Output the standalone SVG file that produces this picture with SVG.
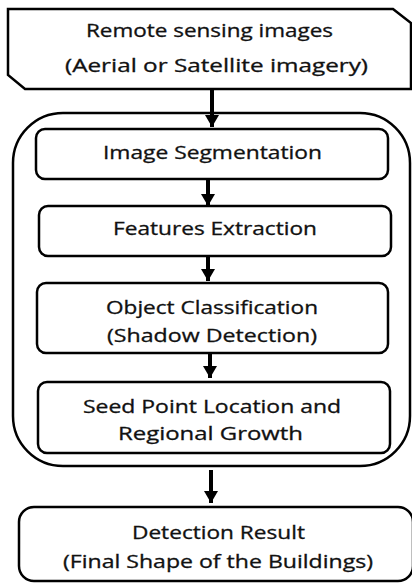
<svg xmlns="http://www.w3.org/2000/svg" width="412" height="583" viewBox="0 0 412 583">
<defs>
<style>
.box{fill:#fff;stroke:#000;stroke-width:2.5}
.cont{fill:none;stroke:#000;stroke-width:2.5}
.lbl{font-family:"Open Sans","Liberation Sans",sans-serif;font-size:18px;fill:#111;stroke:#111;stroke-width:0.3}
.conn{stroke:#000;stroke-width:4;fill:none}
</style>
<marker id="ah" markerUnits="userSpaceOnUse" markerWidth="12" markerHeight="14" refX="12" refY="7" orient="auto">
<path d="M0,0 L12,7 L0,14 Z" fill="#000"/>
</marker>
</defs>
<rect width="412" height="583" fill="#fff"/>
<g id="container">
<rect class="cont" x="13" y="113" width="397" height="353" rx="50" ry="50"/>
</g>
<g id="n-input">
<path class="box" d="M8,9 L393,9 L411,23 L411,89 L25,89 L8,75 Z"/>
<text class="lbl" x="86" y="37" textLength="247" lengthAdjust="spacingAndGlyphs">Remote sensing images</text>
<text class="lbl" x="65" y="72" textLength="303" lengthAdjust="spacingAndGlyphs">(Aerial or Satellite imagery)</text>
</g>
<g id="n-seg">
<rect class="box" x="36" y="129" width="352" height="50" rx="9"/>
<text class="lbl" x="103" y="159" textLength="219" lengthAdjust="spacingAndGlyphs">Image Segmentation</text>
</g>
<g id="n-feat">
<rect class="box" x="39" y="206" width="352" height="50" rx="9"/>
<text class="lbl" x="113" y="235" textLength="204" lengthAdjust="spacingAndGlyphs">Features Extraction</text>
</g>
<g id="n-class">
<rect class="box" x="37" y="283" width="351" height="70" rx="9"/>
<text class="lbl" x="106" y="314" textLength="212" lengthAdjust="spacingAndGlyphs">Object Classification</text>
<text class="lbl" x="107" y="342" textLength="210" lengthAdjust="spacingAndGlyphs">(Shadow Detection)</text>
</g>
<g id="n-seed">
<rect class="box" x="38" y="382" width="352" height="71" rx="9"/>
<text class="lbl" x="83" y="413" textLength="258" lengthAdjust="spacingAndGlyphs">Seed Point Location and</text>
<text class="lbl" x="118" y="440" textLength="185" lengthAdjust="spacingAndGlyphs">Regional Growth</text>
</g>
<g id="n-result">
<rect class="box" x="19" y="507" width="394" height="74" rx="15"/>
<text class="lbl" x="132" y="539" textLength="173" lengthAdjust="spacingAndGlyphs">Detection Result</text>
<text class="lbl" x="63" y="568" textLength="310" lengthAdjust="spacingAndGlyphs">(Final Shape of the Buildings)</text>
</g>
<g id="connectors">
<line class="conn" x1="212" y1="90" x2="212" y2="127" marker-end="url(#ah)"/>
<line class="conn" x1="208" y1="180" x2="208" y2="206" marker-end="url(#ah)"/>
<line class="conn" x1="208" y1="257" x2="208" y2="281" marker-end="url(#ah)"/>
<line class="conn" x1="210" y1="354" x2="210" y2="378" marker-end="url(#ah)"/>
<line class="conn" x1="211" y1="470" x2="211" y2="503" marker-end="url(#ah)"/>
</g>
</svg>
